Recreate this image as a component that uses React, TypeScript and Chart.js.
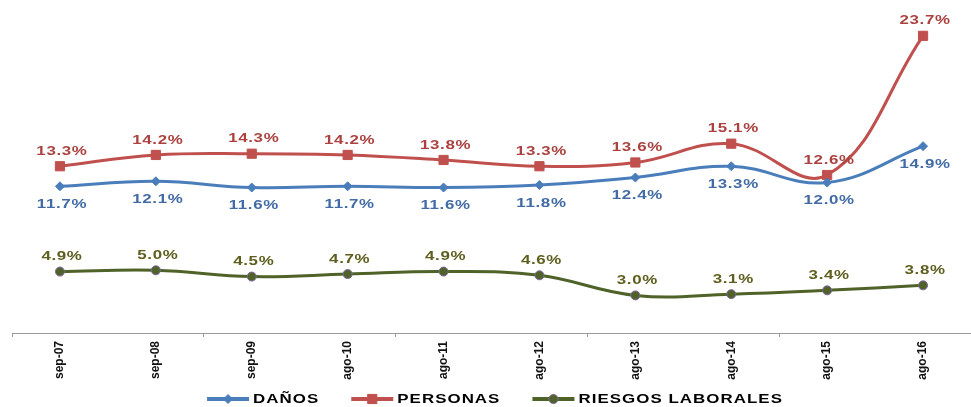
import React, { useEffect, useRef } from "react";
import { Chart, registerables } from "chart.js";

Chart.register(...registerables);

const categories = ["sep-07", "sep-08", "sep-09", "ago-10", "ago-11", "ago-12", "ago-13", "ago-14", "ago-15", "ago-16"];
const danos = [11.7, 12.1, 11.6, 11.7, 11.6, 11.8, 12.4, 13.3, 12.0, 14.9];
const personas = [13.3, 14.2, 14.3, 14.2, 13.8, 13.3, 13.6, 15.1, 12.6, 23.7];
const riesgos = [4.9, 5.0, 4.5, 4.7, 4.9, 4.6, 3.0, 3.1, 3.4, 3.8];
const seriesNames = ["DAÑOS", "PERSONAS", "RIESGOS LABORALES"];

const FONT = "'Liberation Sans', Arial, sans-serif";
const STRETCH = 1.3;

type SeriesStyle = {
  color: string;
  labelColor: string;
  marker: string;
  markerFill: string;
  markerBorder: string;
  radius: number;
  labelPos: "above" | "below";
};

const styles: SeriesStyle[] = [
  { color: "#4A7EBB", labelColor: "#426BA6", marker: "rectRot", markerFill: "#4A7EBB", markerBorder: "#4A7EBB", radius: 4.5, labelPos: "below" },
  { color: "#C0504D", labelColor: "#AA423F", marker: "rect", markerFill: "#C0504D", markerBorder: "#C0504D", radius: 6.5, labelPos: "above" },
  { color: "#4F6228", labelColor: "#5E5E1E", marker: "circle", markerFill: "#4F6228", markerBorder: "#8064A2", radius: 4.5, labelPos: "above" },
];

function drawText(ctx: CanvasRenderingContext2D, text: string, x: number, y: number, align: CanvasTextAlign, spacing: number) {
  ctx.save();
  ctx.translate(x, y);
  ctx.scale(STRETCH, 1);
  (ctx as any).letterSpacing = spacing + "px";
  ctx.textAlign = align;
  ctx.textBaseline = "middle";
  ctx.fillText(text, 0, 0);
  ctx.restore();
}

function drawMarker(ctx: CanvasRenderingContext2D, s: SeriesStyle, x: number, y: number) {
  ctx.save();
  ctx.fillStyle = s.markerFill;
  ctx.strokeStyle = s.markerBorder;
  ctx.lineWidth = 1;
  ctx.beginPath();
  const r = s.radius;
  if (s.marker === "rectRot") {
    ctx.moveTo(x, y - r);
    ctx.lineTo(x + r, y);
    ctx.lineTo(x, y + r);
    ctx.lineTo(x - r, y);
    ctx.closePath();
  } else if (s.marker === "rect") {
    const h = r / Math.SQRT2;
    ctx.rect(x - h, y - h, 2 * h, 2 * h);
  } else {
    ctx.arc(x, y, r, 0, Math.PI * 2);
  }
  ctx.fill();
  ctx.stroke();
  ctx.restore();
}

const dataLabelPlugin = {
  id: "dataLabels",
  afterDatasetsDraw(chart: any) {
    const ctx: CanvasRenderingContext2D = chart.ctx;
    chart.data.datasets.forEach((ds: any, i: number) => {
      const meta = chart.getDatasetMeta(i);
      const st = styles[i];
      ctx.save();
      ctx.font = `bold 13px ${FONT}`;
      ctx.fillStyle = st.labelColor;
      meta.data.forEach((pt: any, j: number) => {
        const v = ds.data[j] as number;
        const dy = st.labelPos === "above" ? -15 : 18;
        drawText(ctx, v.toFixed(1) + "%", pt.x + 2, pt.y + dy, "center", 0.5);
      });
      ctx.restore();
    });
  },
};

const legendPlugin = {
  id: "customLegend",
  afterDraw(chart: any) {
    const ctx: CanvasRenderingContext2D = chart.ctx;
    const y = 399;
    const lineLen = 42;
    const gapText = 4;
    const itemGap = 32;
    ctx.save();
    ctx.font = `bold 13px ${FONT}`;
    (ctx as any).letterSpacing = "0.8px";
    const widths = seriesNames.map((n) => ctx.measureText(n).width * STRETCH);
    (ctx as any).letterSpacing = "0px";
    const total = widths.reduce((a, b) => a + b, 0) + seriesNames.length * (lineLen + gapText) + itemGap * (seriesNames.length - 1);
    let x = 495 - total / 2;
    seriesNames.forEach((name, i) => {
      const st = styles[i];
      ctx.strokeStyle = st.color;
      ctx.lineWidth = 4;
      ctx.beginPath();
      ctx.moveTo(x, y);
      ctx.lineTo(x + lineLen, y);
      ctx.stroke();
      drawMarker(ctx, st, x + lineLen / 2, y);
      ctx.fillStyle = "#000";
      drawText(ctx, name, x + lineLen + gapText, y, "left", 0.8);
      x += lineLen + gapText + widths[i] + itemGap;
    });
    ctx.restore();
  },
};

export default function App() {
  const ref = useRef<HTMLCanvasElement | null>(null);
  useEffect(() => {
    if (!ref.current) return;
    const series = [danos, personas, riesgos];
    const chart = new Chart(ref.current, {
      type: "line",
      data: {
        labels: categories,
        datasets: series.map((d, i) => ({
          label: seriesNames[i],
          data: d,
          borderColor: styles[i].color,
          backgroundColor: styles[i].markerFill,
          pointBackgroundColor: styles[i].markerFill,
          pointBorderColor: styles[i].markerBorder,
          pointBorderWidth: 1,
          pointStyle: styles[i].marker as any,
          pointRadius: styles[i].radius,
          borderWidth: 3,
          tension: 0.4,
          fill: false,
          clip: false as any,
        })),
      },
      options: {
        animation: false,
        responsive: false,
        maintainAspectRatio: false,
        layout: { autoPadding: false, padding: { left: 12, right: 0, top: 7, bottom: 0 } },
        plugins: {
          legend: { display: false },
          tooltip: { enabled: false },
        },
        scales: {
          x: {
            offset: true,
            afterFit: (scale: any) => {
              scale.height = 74;
              scale.paddingLeft = 0;
              scale.paddingRight = 0;
            },
            grid: {
              offset: true,
              drawOnChartArea: false,
              drawTicks: true,
              tickLength: 4,
              color: (c: any) => (c.index % 2 === 0 ? "#9A9A9A" : "rgba(0,0,0,0)"),
            },
            border: { display: true, color: "#9A9A9A", width: 1 },
            ticks: {
              autoSkip: false,
              minRotation: 90,
              maxRotation: 90,
              padding: 4,
              color: "#111",
              font: { family: FONT, size: 12, weight: "bold" },
            },
          },
          y: {
            display: false,
            min: 0,
            max: 26,
          },
        },
      },
      plugins: [dataLabelPlugin, legendPlugin],
    });
    return () => chart.destroy();
  }, []);
  return (
    <div style={{ position: "fixed", left: 0, top: 0, width: 971, height: 407, background: "#fff" }}>
      <canvas ref={ref} width={971} height={407} style={{ display: "block", width: 971, height: 407 }} />
    </div>
  );
}
